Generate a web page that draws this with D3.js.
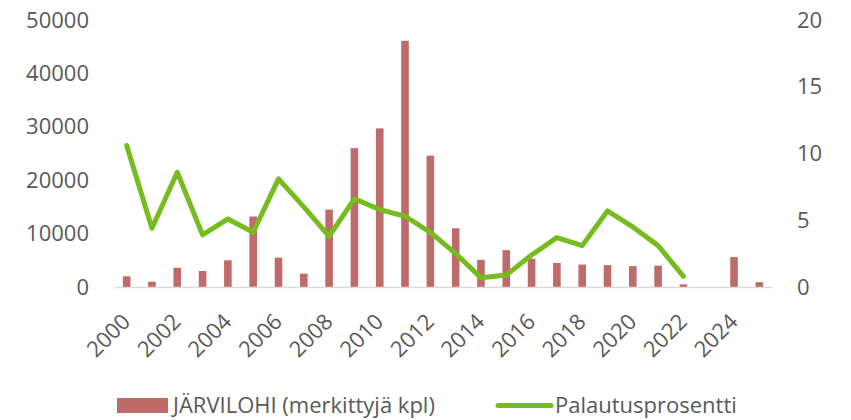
<!DOCTYPE html>
<html>
<head>
<meta charset="utf-8">
<script src="https://cdn.jsdelivr.net/npm/d3@7"></script>
<style>
  body { margin: 0; background: #fff; }
  text { font-family: "Open Sans", "Noto Sans", sans-serif; fill: #595959; }
</style>
</head>
<body>
<div id="chart"></div>
<script>
// data
var years = d3.range(2000, 2026);
var tagged = [2000, 1000, 3600, 3000, 5000, 13200, 5500, 2500, 14500, 26000, 29700, 46100, 24600, 11000,
              5100, 6900, 5300, 4500, 4200, 4100, 3900, 4000, 500, 0, 5600, 900];
var returnPct = [10.6, 4.4, 8.6, 3.9, 5.1, 4.1, 8.1, 6.0, 3.8, 6.6, 5.8, 5.3, 4.1, 2.5,
                 0.7, 0.9, 2.4, 3.7, 3.1, 5.7, 4.5, 3.1, 0.8, null, null, null];
var leftTicks = [0, 10000, 20000, 30000, 40000, 50000];
var rightTicks = [0, 5, 10, 15, 20];
var barName = "JÄRVILOHI (merkittyjä kpl)";
var lineName = "Palautusprosentti";

var W = 851, H = 420;
var margin = {top: 20, left: 114, right: 79, bottom: 133};
var width = W - margin.left - margin.right,
    height = H - margin.top - margin.bottom;

var svg = d3.select("#chart").append("svg")
    .attr("width", W)
    .attr("height", H);
var g = svg.append("g")
    .attr("transform", "translate(" + margin.left + "," + margin.top + ")");

var x = d3.scaleBand()
  .domain(years)
  .range([0, width])
  .paddingInner(0.7)
  .paddingOuter(0.35);

var yL = d3.scaleLinear().domain([0, 50000]).range([height, 0]);
var yR = d3.scaleLinear().domain([0, 20]).range([height, 0]);

// left axis labels
g.append("g")
  .attr("transform", "translate(-25,0)")
  .call(d3.axisLeft(yL).tickValues(leftTicks).tickFormat(d3.format("d")).tickSize(0).tickPadding(0))
  .call(function(a) { a.select(".domain").remove(); })
  .selectAll("text")
    .style("font-size", "22px")
    .attr("fill", "#595959");

// right axis labels
g.append("g")
  .attr("transform", "translate(" + (width + 25) + ",0)")
  .call(d3.axisRight(yR).tickValues(rightTicks).tickSize(0).tickPadding(0))
  .call(function(a) { a.select(".domain").remove(); })
  .selectAll("text")
    .style("font-size", "22px")
    .attr("fill", "#595959");

// bars
g.selectAll(".bar")
  .data(years)
  .enter().append("rect")
    .attr("x", function(d) { return x(d); })
    .attr("width", x.bandwidth())
    .attr("y", function(d, i) { return yL(tagged[i]); })
    .attr("height", function(d, i) { return height - yL(tagged[i]); })
    .attr("fill", "#BE6B69");

// category axis
var xAxis = g.append("g")
  .attr("transform", "translate(0," + height + ")")
  .call(d3.axisBottom(x)
    .tickValues(years.filter(function(d) { return d % 2 === 0; }))
    .tickSize(0).tickPadding(0));
xAxis.select(".domain").attr("stroke", "#D9D9D9").attr("stroke-width", 1.5);
xAxis.selectAll("text")
  .style("font-size", "22px")
  .attr("fill", "#595959")
  .attr("text-anchor", "end")
  .attr("dy", null)
  .attr("y", 0)
  .attr("transform", "translate(5,36) rotate(-45)");

// return percentage line
var pts = years.map(function(d, i) { return {year: d, v: returnPct[i]}; })
  .filter(function(p) { return p.v !== null; });
g.append("path")
  .datum(pts)
  .attr("fill", "none")
  .attr("stroke", "#77BC1F")
  .attr("stroke-width", 5)
  .attr("stroke-linejoin", "round")
  .attr("stroke-linecap", "round")
  .attr("d", d3.line()
    .x(function(d) { return x(d.year) + x.bandwidth() / 2; })
    .y(function(d) { return yR(d.v); }));

// legend
var leg = svg.append("g");
leg.append("rect")
  .attr("x", 117).attr("y", 398)
  .attr("width", 51).attr("height", 15)
  .attr("fill", "#BE6B69");
leg.append("text")
  .attr("x", 173).attr("y", 413)
  .style("font-size", "22px")
  .text(barName);
leg.append("line")
  .attr("x1", 498).attr("x2", 551)
  .attr("y1", 405.5).attr("y2", 405.5)
  .attr("stroke", "#77BC1F")
  .attr("stroke-width", 5)
  .attr("stroke-linecap", "round");
leg.append("text")
  .attr("x", 555).attr("y", 413)
  .style("font-size", "22px")
  .text(lineName);
</script>
</body>
</html>
